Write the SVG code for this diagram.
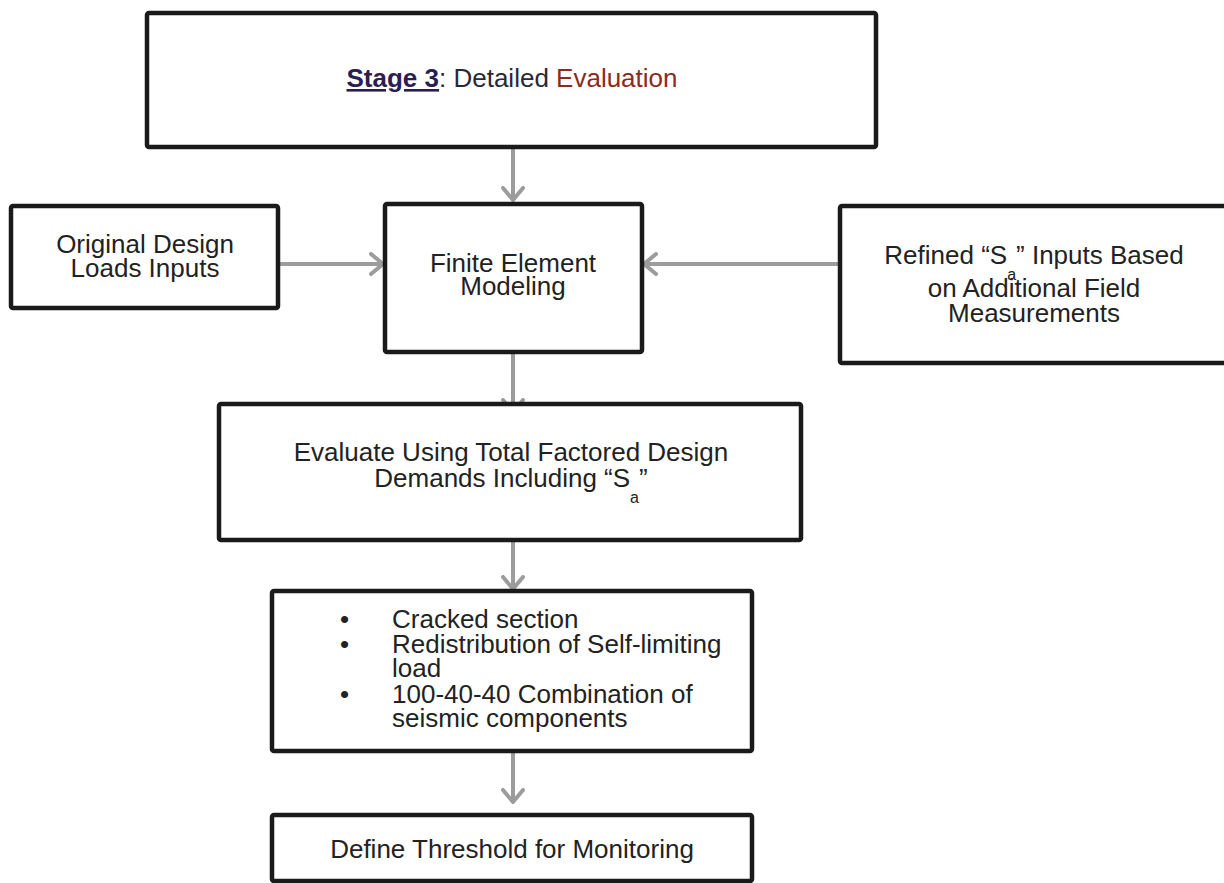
<svg xmlns="http://www.w3.org/2000/svg" width="1224" height="883" viewBox="0 0 1224 883">
<defs>
<style>
.box{fill:#ffffff;stroke:#1a1a1a;stroke-width:4.5}
.t{font-family:"Liberation Sans",Arial,sans-serif;font-size:26px;fill:#222222}
.c{text-anchor:middle}
.conn{stroke:#9c9c9c;stroke-width:4;fill:none}
</style>
<marker id="ah" viewBox="0 0 16 24" refX="14" refY="12" markerWidth="16" markerHeight="24" markerUnits="userSpaceOnUse" orient="auto">
<path d="M2,2 L14,12 L2,22" fill="none" stroke="#9c9c9c" stroke-width="4" stroke-linecap="round" stroke-linejoin="round"/>
</marker>
</defs>
<rect width="1224" height="883" fill="#ffffff"/>
<g id="connectors">
<line class="conn" x1="513" y1="149" x2="513" y2="200" marker-end="url(#ah)"/>
<line class="conn" x1="280" y1="264" x2="383" y2="264" marker-end="url(#ah)"/>
<line class="conn" x1="840" y1="264" x2="644" y2="264" marker-end="url(#ah)"/>
<line class="conn" x1="513" y1="354" x2="513" y2="412" marker-end="url(#ah)"/>
<line class="conn" x1="513" y1="542" x2="513" y2="589" marker-end="url(#ah)"/>
<line class="conn" x1="513" y1="753" x2="513" y2="802" marker-end="url(#ah)"/>
</g>
<g id="stage3">
<rect class="box" x="147" y="13" width="729" height="134" rx="2"/>
<text class="t c" x="512" y="87" font-size="26"><tspan fill="#2b1f4f" font-weight="bold" text-decoration="underline">Stage 3</tspan><tspan fill="#2a2838">: Detailed </tspan><tspan fill="#8b2b1e">Evaluation</tspan></text>
</g>
<g id="original">
<rect class="box" x="11" y="206" width="267" height="102" rx="2"/>
<text class="t c" x="145" y="253">Original Design</text>
<text class="t c" x="145" y="277">Loads Inputs</text>
</g>
<g id="fem">
<rect class="box" x="385" y="204" width="257" height="148" rx="2"/>
<text class="t c" x="513" y="272">Finite Element</text>
<text class="t c" x="513" y="295">Modeling</text>
</g>
<g id="refined">
<rect class="box" x="840" y="206" width="390" height="157" rx="2"/>
<text class="t c" x="1034" y="264">Refined “S<tspan font-size="16" dy="16">a</tspan><tspan dy="-16">” Inputs Based</tspan></text>
<text class="t c" x="1034" y="297">on Additional Field</text>
<text class="t c" x="1034" y="322">Measurements</text>
</g>
<g id="evaluate">
<rect class="box" x="219" y="404" width="582" height="136" rx="2"/>
<text class="t c" x="511" y="461">Evaluate Using Total Factored Design</text>
<text class="t c" x="511" y="487">Demands Including “S<tspan font-size="16" dy="16">a</tspan><tspan dy="-16">”</tspan></text>
</g>
<g id="bullets">
<rect class="box" x="272" y="591" width="480" height="160" rx="2"/>
<text class="t" x="340" y="628">•</text>
<text class="t" x="392" y="628">Cracked section</text>
<text class="t" x="340" y="653">•</text>
<text class="t" x="392" y="653">Redistribution of Self-limiting</text>
<text class="t" x="392" y="677">load</text>
<text class="t" x="340" y="703">•</text>
<text class="t" x="392" y="703">100-40-40 Combination of</text>
<text class="t" x="392" y="727">seismic components</text>
</g>
<g id="threshold">
<rect class="box" x="272" y="815" width="480" height="66" rx="2"/>
<text class="t c" x="512" y="858">Define Threshold for Monitoring</text>
</g>
</svg>
